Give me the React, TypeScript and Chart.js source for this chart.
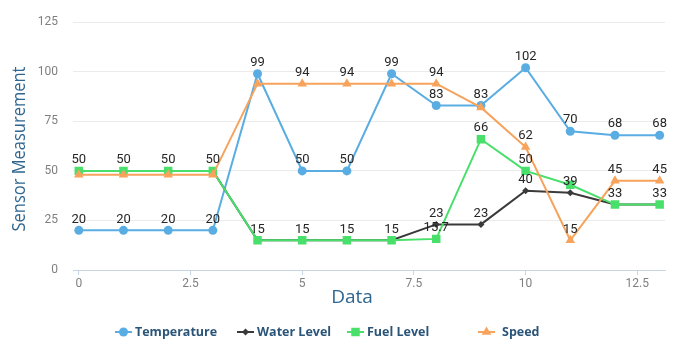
import React, { useEffect, useRef } from 'react';
import { Chart, registerables } from 'chart.js';
import { drawPoint } from 'chart.js/helpers';

Chart.register(...registerables);

const xValues = [0, 1, 2, 3, 4, 5, 6, 7, 8, 9, 10, 11, 12, 13];
const temperature = [20, 20, 20, 20, 99, 50, 50, 99, 83, 83, 102, 70, 68, 68];
const waterLevel = [50, 50, 50, 50, 15, 15, 15, 15, 23, 23, 40, 39, 33, 33];
const fuelLevel = [50, 50, 50, 50, 15, 15, 15, 15, 15.7, 66, 50, 43, 33, 33];
const speed = [48, 48, 48, 48, 94, 94, 94, 94, 94, 82, 62, 15, 45, 45];
const seriesNames = ['Temperature', 'Water Level', 'Fuel Level', 'Speed'];
const xTicks = [0, 2.5, 5, 7.5, 10, 12.5];
const yTicks = [0, 25, 50, 75, 100, 125];
const xTitle = 'Data';
const yTitle = 'Sensor Measurement';

const colors = ['#5aade2', '#3a3a3a', '#48e06a', '#f7a35c'];
const pointStyles = ['circle', 'rectRot', 'rect', 'triangle'];
const pointRadii = [4.5, 3.5, 6, 5.5];
const drawOrder = [3, 2, 1, 0];
const legendStarts = [115, 237, 347, 478];
const legendTextOffsets = [20, 20, 20, 24];

const labelPlugin = {
  id: 'pointLabels',
  afterDatasetsDraw(chart: any) {
    const ctx = chart.ctx;
    ctx.save();
    ctx.font = '13px Roboto';
    ctx.fillStyle = '#262626';
    ctx.textAlign = 'center';
    ctx.textBaseline = 'middle';
    const placed: any[] = [];
    for (let i = 0; i < xValues.length; i++) {
      for (let d = 0; d < chart.data.datasets.length; d++) {
        const el = chart.getDatasetMeta(d).data[i];
        const v = chart.data.datasets[d].data[i].y;
        const text = String(v);
        const w = ctx.measureText(text).width;
        const cx = el.x;
        const cy = el.y - 11;
        const box = { l: cx - w / 2, r: cx + w / 2, t: cy - 6, b: cy + 6 };
        if (placed.some((p) => p.l < box.r && box.l < p.r && p.t < box.b && box.t < p.b)) continue;
        placed.push(box);
        ctx.fillText(text, cx, cy);
      }
    }
    ctx.restore();
  },
};

const decorPlugin = {
  id: 'decor',
  afterDraw(chart: any) {
    const ctx = chart.ctx;
    const area = chart.chartArea;
    ctx.save();
    ctx.font = '19px "Open Sans"';
    const tw = ctx.measureText(yTitle).width;
    const sx = Math.min(1, 165 / tw);
    ctx.translate(19.5, 149);
    ctx.rotate(-Math.PI / 2);
    ctx.scale(sx, 1);
    ctx.fillStyle = '#2f6690';
    ctx.textAlign = 'center';
    ctx.textBaseline = 'middle';
    ctx.fillText(yTitle, 0, 0);
    ctx.restore();

    ctx.save();
    ctx.font = '19px "Open Sans"';
    ctx.fillStyle = '#2f6690';
    ctx.textAlign = 'center';
    ctx.textBaseline = 'middle';
    ctx.fillText(xTitle, 352, area.bottom + 28);
    ctx.restore();

    const ly = 332;
    seriesNames.forEach((name, k) => {
      const lx = legendStarts[k];
      ctx.save();
      ctx.strokeStyle = colors[k];
      ctx.fillStyle = colors[k];
      ctx.lineWidth = 2;
      ctx.beginPath();
      ctx.moveTo(lx, ly);
      ctx.lineTo(lx + 17, ly);
      ctx.stroke();
      drawPoint(ctx, { pointStyle: pointStyles[k], rotation: 0, radius: pointRadii[k], borderWidth: 0 } as any, lx + 8.5, ly);
      ctx.font = 'bold 12.5px "Open Sans"';
      ctx.fillStyle = '#2a5478';
      ctx.textAlign = 'left';
      ctx.textBaseline = 'middle';
      ctx.fillText(name, lx + legendTextOffsets[k], ly);
      ctx.restore();
    });
  },
};

export default function App() {
  const ref = useRef<HTMLCanvasElement | null>(null);
  useEffect(() => {
    if (!ref.current) return;
    const series = [temperature, waterLevel, fuelLevel, speed];
    const chart = new Chart(ref.current, {
      type: 'line',
      data: {
        datasets: series.map((arr, k) => ({
          label: seriesNames[k],
          data: xValues.map((x, i) => ({ x, y: arr[i] })),
          borderColor: colors[k],
          backgroundColor: colors[k],
          borderWidth: 2,
          pointStyle: pointStyles[k] as any,
          pointRadius: pointRadii[k],
          pointBorderWidth: 0,
          pointBackgroundColor: colors[k],
          tension: 0,
          fill: false,
          order: drawOrder[k],
        })),
      },
      options: {
        animation: false,
        responsive: false,
        layout: { padding: { left: 0, right: 22, top: 19, bottom: 40 } },
        plugins: { legend: { display: false }, tooltip: { enabled: false } },
        scales: {
          x: {
            type: 'linear',
            min: -0.13,
            max: 13.12,
            afterBuildTicks: (s: any) => {
              s.ticks = xTicks.map((v) => ({ value: v }));
            },
            afterFit: (s: any) => {
              s.height = 40;
            },
            grid: { drawOnChartArea: false, drawTicks: true, tickLength: 5, color: '#c8d4e3' },
            border: { display: true, color: '#c8d4e3', width: 1 },
            ticks: {
              padding: 2,
              font: { family: 'Roboto', size: 12 },
              color: '#7f7f7f',
              callback: (v: any) => String(v),
              maxRotation: 0,
              autoSkip: false,
            },
          },
          y: {
            type: 'linear',
            min: 0,
            max: 125,
            afterBuildTicks: (s: any) => {
              s.ticks = yTicks.map((v) => ({ value: v }));
            },
            afterFit: (s: any) => {
              s.width = 73;
            },
            grid: {
              drawTicks: false,
              color: (c: any) => (c.tick && c.tick.value === 0 ? 'rgba(0,0,0,0)' : '#ebebeb'),
            },
            border: { display: false },
            ticks: {
              padding: 15,
              font: { family: 'Roboto', size: 12 },
              color: '#7f7f7f',
              callback: (v: any) => String(v),
            },
          },
        },
      },
      plugins: [labelPlugin, decorPlugin],
    });
    return () => chart.destroy();
  }, []);
  return (
    <div style={{ position: 'absolute', left: 0, top: 0, width: 687, height: 350, background: '#fff' }}>
      <canvas ref={ref} width={687} height={350} />
    </div>
  );
}
